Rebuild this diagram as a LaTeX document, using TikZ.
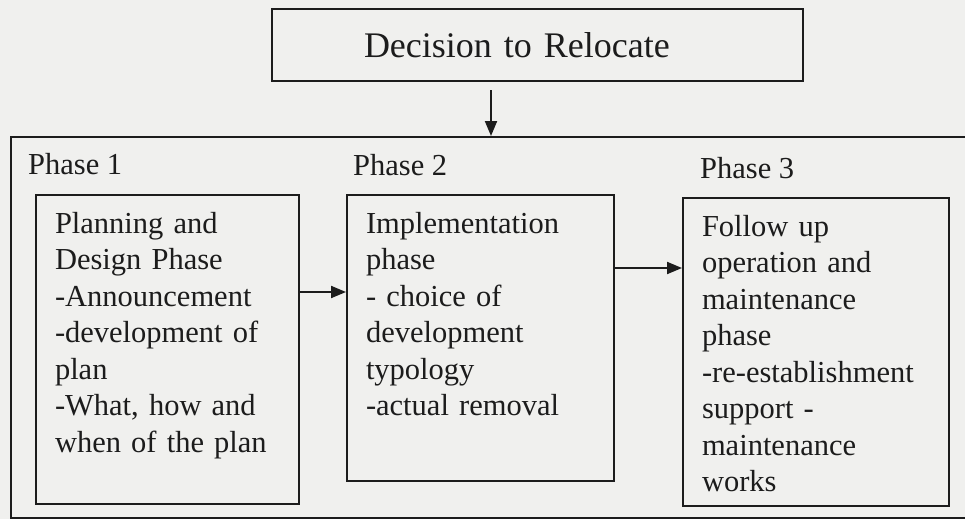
\documentclass[tikz,border=0pt]{standalone}
\usepackage{fontspec}
\setmainfont{Liberation Serif}
\usetikzlibrary{arrows.meta}
\definecolor{ink}{RGB}{28,28,28}
\definecolor{paper}{RGB}{240,240,238}

\begin{document}
\begin{tikzpicture}[x=1pt, y=-1pt,
    every node/.style={text=ink, font=\fontsize{30.5}{36.5}\selectfont},
    titlebox/.style={draw=ink, line width=2pt, anchor=north west, align=left,
      text width=347pt, inner xsep=92pt, inner ysep=0pt, minimum height=72pt,
      font=\fontsize{36}{40}\selectfont},
    phasebox/.style={draw=ink, line width=2pt, anchor=north west, align=left,
      inner xsep=19pt, inner ysep=8pt, text height=30pt},
    phasename/.style={anchor=base west, inner sep=0pt},
    arr/.style={draw=ink, line width=2pt, -{Triangle[length=15pt,width=12pt]}}
  ]
  \useasboundingbox (0,0) rectangle (965,519);
  \fill[paper] (0,0) rectangle (965,519);

  \node[titlebox] (decision) at (271,8) {Decision to Relocate};

  % frame round the three phases (runs off the right edge)
  \node[draw=ink, line width=2pt, anchor=north west, inner sep=0pt,
    minimum width=975pt, minimum height=381pt] (frame) at (10,136) {};

  \coordinate (drop) at (491,90);
  \draw[arr] (drop) -- (drop |- frame.north);

  \node[phasename] (ph1) at (28,174) {Phase 1};
  \node[phasename] (ph2) at (353,175) {Phase 2};
  \node[phasename] (ph3) at (700,178) {Phase 3};

  \node[phasebox, text width=225pt, text depth=263pt] (plan) at (35,194)
    {Planning and\\Design Phase\\-Announcement\\-development of\\plan\\-What, how and\\when of the plan};
  \node[phasebox, text width=229pt, text depth=240pt] (impl) at (346,194)
    {Implementation\\phase\\- choice of\\development\\typology\\-actual removal};
  \node[phasebox, text width=228pt, text depth=262pt] (follow) at (682,197)
    {Follow up\\operation and\\maintenance\\phase\\-re-establishment\\support -\\maintenance\\works};

  \draw[arr] ([yshift=57.5pt]plan.east) -- ([yshift=57.5pt]plan.east -| impl.west);
  \draw[arr] ([yshift=70pt]impl.east) -- ([yshift=70pt]impl.east -| follow.west);
\end{tikzpicture}
\end{document}
